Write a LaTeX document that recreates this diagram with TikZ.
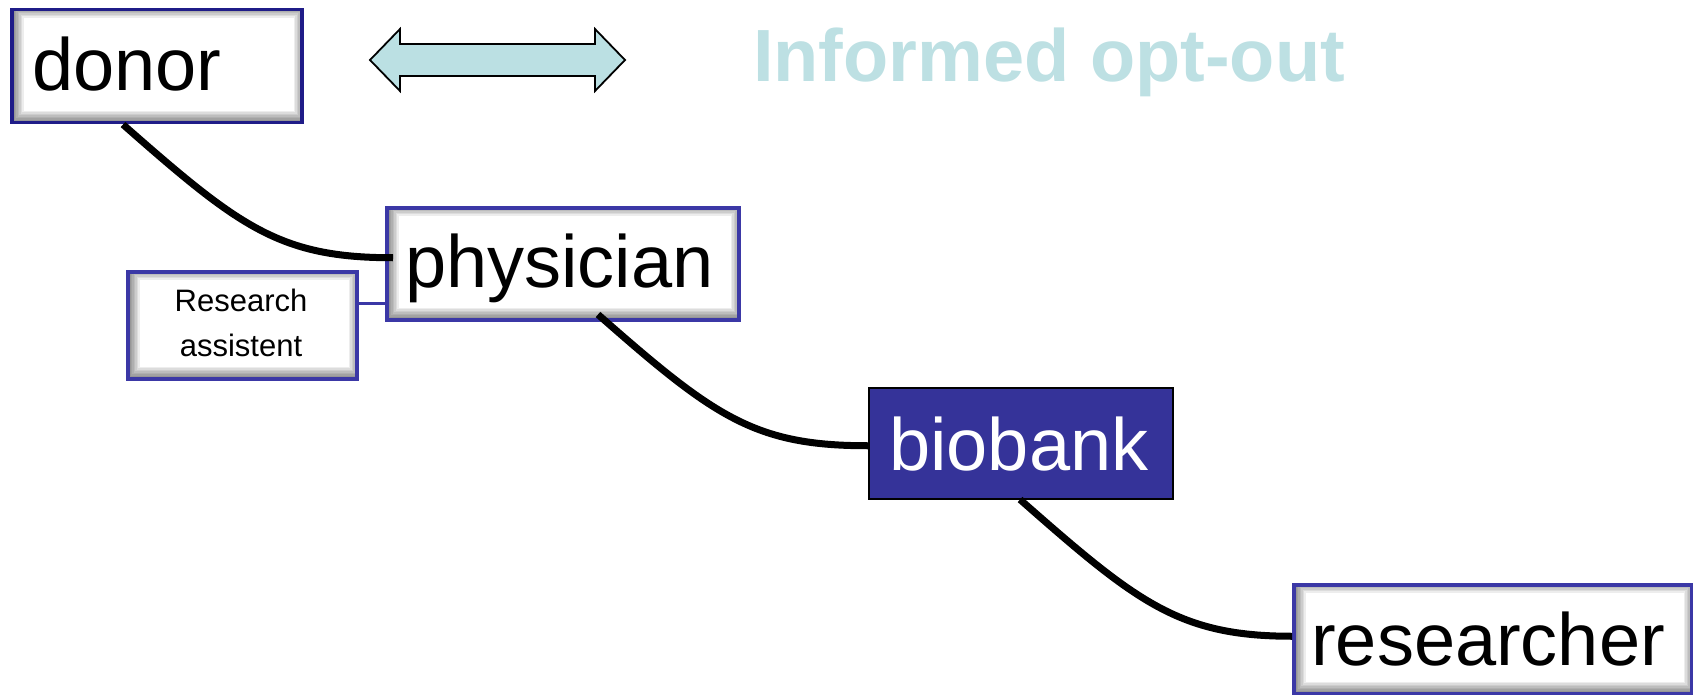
\documentclass[tikz,border=0pt]{standalone}
\usepackage{fontspec}
\setmainfont{Liberation Sans}
\definecolor{boxblue}{HTML}{3B38A6}
\definecolor{donorblue}{HTML}{1F1C88}
\definecolor{bankblue}{HTML}{353399}
\definecolor{optcyan}{HTML}{BDE0E3}
\definecolor{arrowfill}{HTML}{BBE0E3}
\begin{document}
\begin{tikzpicture}[x=1pt,y=-1pt,
  shadowbox/.style={draw=boxblue, line width=3.5pt, fill=white, inner sep=0pt, anchor=north west,
    path picture={\foreach \w in {3,6,...,24}{\draw[black, opacity=0.07, line width=\w pt]
      ([shift={(0pt,4pt)}]path picture bounding box.north west) rectangle
      ([shift={(4pt,0pt)}]path picture bounding box.south east);}}},
  big/.style={font=\fontsize{74}{80}\selectfont, inner sep=0pt, anchor=base west},
  link/.style={line width=7pt, black},
]
\useasboundingbox (0,0) rectangle (1693,695);
% boxes
\node[shadowbox, draw=donorblue, minimum width=290pt, minimum height=113pt] (donor) at (10,8) {};
\node[big] (donortxt) at (32,91) {donor};
\node[shadowbox, minimum width=352pt, minimum height=112pt] (physician) at (385,206) {};
\node[big] (phystxt) at (405,287) {physician};
\node[shadowbox, minimum width=229pt, minimum height=107pt] (ra) at (126,270) {};
\node[font=\fontsize{31}{45}\selectfont, align=center, inner sep=0pt] (ratxt) at (241,323) {Research\\assistent};
\node[draw=black, line width=1.5pt, fill=bankblue, inner sep=0pt, anchor=north west,
      minimum width=304pt, minimum height=111pt] (biobank) at (868,387) {};
\node[big, text=white] (banktxt) at (889,470) {biobank};
\node[shadowbox, minimum width=398pt, minimum height=109pt] (researcher) at (1292,583) {};
\node[big] (restxt) at (1311,665) {researcher};
% title and double arrow
\node[font=\fontsize{74}{80}\selectfont\bfseries, text=optcyan, inner sep=0pt, anchor=base west] (title) at (753,82) {Informed opt-out};
\draw[fill=arrowfill, line width=1.8pt] (370,60) -- (400,29) -- (400,44) -- (595,44) -- (595,29)
  -- (625,60) -- (595,91) -- (595,76) -- (400,76) -- (400,91) -- cycle;
% connectors
\draw[boxblue, line width=3pt] ([yshift=21.5pt]ra.east) -- ([yshift=21.5pt]ra.east -| physician.west);
\draw[link] ([xshift=113pt]donor.south west) .. controls +(117,103) and +(-113,0) .. ([xshift=8pt,yshift=6pt]physician.west);
\draw[link] ([xshift=213pt,yshift=7pt]physician.south west) .. controls +(117,103) and +(-113,0) .. ([yshift=-2.5pt]biobank.west);
\draw[link] ([xshift=152pt]biobank.south west) .. controls +(117,103) and +(-113,0) .. ([yshift=3pt]researcher.west);
\end{tikzpicture}
\end{document}
